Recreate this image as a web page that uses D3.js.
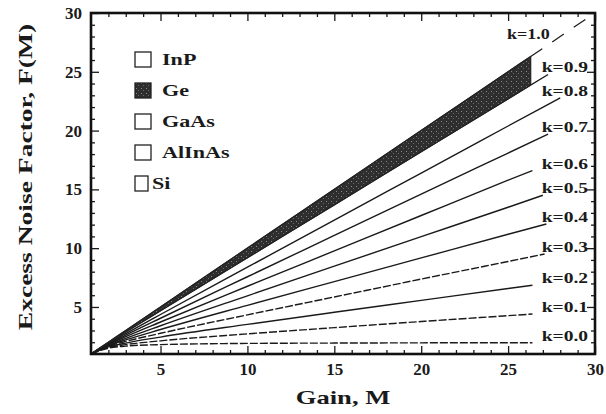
<!DOCTYPE html>
<html>
<head>
<meta charset="utf-8">
<script src="https://cdn.jsdelivr.net/npm/d3@7"></script>
<style>
  body { margin: 0; background: #fff; }
  text { font-family: "Liberation Serif", "DejaVu Serif", serif; font-weight: bold; fill: #1a1a1a; }
</style>
</head>
<body>
<div id="chart"></div>
<script>
// values
const gain = [1, 2, 3, 5, 10, 15, 20, 25];
const kNames = ['k=1.0', 'k=0.9', 'k=0.8', 'k=0.7', 'k=0.6', 'k=0.5', 'k=0.4', 'k=0.3', 'k=0.2', 'k=0.1', 'k=0.0'];
const noiseK10 = [1, 2, 3, 5, 10, 15, 20, 25];
const noiseK09 = [1, 1.95, 2.87, 4.68, 9.19, 13.69, 18.2, 22.7];
const noiseK08 = [1, 1.9, 2.73, 4.36, 8.38, 12.39, 16.39, 20.39];
const noiseK07 = [1, 1.85, 2.6, 4.04, 7.57, 11.08, 14.59, 18.09];
const noiseK06 = [1, 1.8, 2.47, 3.72, 6.76, 9.77, 12.78, 15.78];
const noiseK05 = [1, 1.75, 2.33, 3.4, 5.95, 8.47, 10.98, 13.48];
const noiseK04 = [1, 1.7, 2.2, 3.08, 5.14, 7.16, 9.17, 11.18];
const noiseK03 = [1, 1.65, 2.07, 2.76, 4.33, 5.85, 7.37, 8.87];
const noiseK02 = [1, 1.6, 1.93, 2.44, 3.52, 4.55, 5.56, 6.57];
const noiseK01 = [1, 1.55, 1.8, 2.12, 2.71, 3.24, 3.76, 4.26];
const noiseK00 = [1, 1.5, 1.67, 1.8, 1.9, 1.93, 1.95, 1.96];
const endGain = [30, 27.3, 28, 27.3, 26.4, 27, 27.2, 27.1, 26.4, 26.4, 26.4];
const endNoise = [30, 24.77, 22.79, 19.7, 16.6, 14.5, 12.06, 9.5, 6.85, 4.4, 1.96];
const dashedK = ['k=0.3', 'k=0.1', 'k=0.0'];

// Ge band (between k=0.9 and k=1.0)
const geGain = [1, 2, 3, 5, 10, 15, 20, 25, 26.3];
const geUpper = [1, 2, 3, 5, 10, 15, 20, 25, 26.3];
const geLower = [1, 1.95, 2.87, 4.68, 9.19, 13.69, 18.2, 22.7, 23.9];

const legendNames = ['InP', 'Ge', 'GaAs', 'AlInAs', 'Si'];
const xTicks = [5, 10, 15, 20, 25, 30];
const yTicks = [5, 10, 15, 20, 25, 30];

const W = 606, H = 414;
const mLeft = 91, mRight = 595, mTop = 13, mBottom = 354;

const svg = d3.select('#chart').append('svg')
  .attr('width', W).attr('height', H);

const x = d3.scaleLinear().domain([1, 30]).range([mLeft, mRight]);
const y = d3.scaleLinear().domain([1, 30]).range([mBottom, mTop]);

// stipple for the Ge band
const defs = svg.append('defs');
const pat = defs.append('pattern').attr('id', 'stip')
  .attr('width', 5).attr('height', 5).attr('patternUnits', 'userSpaceOnUse');
pat.append('rect').attr('width', 5).attr('height', 5).attr('fill', '#2e2e2e');
pat.append('rect').attr('x', 1).attr('y', 1).attr('width', 1).attr('height', 1).attr('fill', '#8a8a8a');
pat.append('rect').attr('x', 3).attr('y', 3).attr('width', 1).attr('height', 1).attr('fill', '#6a6a6a');

const series = [noiseK10, noiseK09, noiseK08, noiseK07, noiseK06, noiseK05,
  noiseK04, noiseK03, noiseK02, noiseK01, noiseK00];

const line = d3.line().x(d => x(d[0])).y(d => y(d[1])).curve(d3.curveMonotoneX);

series.forEach((vals, i) => {
  let pts = gain.map((g, j) => [g, vals[j]]);
  if (i === 0) {
    // k=1.0: solid under the band, dashed tail to the corner
    pts.push([26.3, 26.3]);
    svg.append('path').attr('d', line([[26.3, 26.3], [endGain[i], endNoise[i]]]))
      .attr('fill', 'none').attr('stroke', '#1a1a1a').attr('stroke-width', 1.2)
      .attr('stroke-dasharray', '14,12');
  } else {
    pts.push([endGain[i], endNoise[i]]);
  }
  svg.append('path').attr('d', line(pts))
    .attr('fill', 'none').attr('stroke', '#1a1a1a')
    .attr('stroke-width', 1.4)
    .attr('stroke-dasharray', dashedK.includes(kNames[i]) ? '8,2' : null);
});

const band = d3.area()
  .x(d => x(d[0])).y0(d => y(d[2])).y1(d => y(d[1]))
  .curve(d3.curveMonotoneX);
svg.append('path')
  .attr('d', band(geGain.map((g, j) => [g, geUpper[j], geLower[j]])))
  .attr('fill', 'url(#stip)').attr('stroke', '#222').attr('stroke-width', 1.2);

// stretched text helper
function label(g, tx, ty, str, size, sx, anchor, rot) {
  return g.append('text')
    .attr('transform', `translate(${tx},${ty})` + (rot ? ` rotate(${rot})` : '') + ` scale(${sx},1)`)
    .attr('text-anchor', anchor || 'start')
    .style('font-size', size + 'px')
    .text(str);
}

// k labels
kNames.forEach((k, i) => {
  if (i === 0) {
    label(svg, x(27.4), y(27.8), k, 15, 1.2, 'end');
  } else {
    label(svg, x(29.6), y(endNoise[i]) - 2, k, 15, 1.3, 'end');
  }
});

// axes with inward ticks
function axes(axisFn, scale, tr, vals, size, withText) {
  const a = axisFn(scale).tickValues(vals).tickSize(-size).tickPadding(withText ? 9 : 0);
  if (!withText) a.tickFormat('');
  const g = svg.append('g').attr('transform', tr).call(a)
    .attr('font-family', '"Liberation Serif", serif');
  g.select('.domain').remove();
  g.selectAll('line').attr('stroke', '#1a1a1a').attr('stroke-width', 1.3);
  g.selectAll('text').style('font-size', '17px').attr('fill', '#1a1a1a')
    .style('font-family', '"Liberation Serif", serif').style('font-weight', 'bold');
  return g;
}
const minor = d3.range(2, 30).filter(v => v % 5 !== 0);
axes(d3.axisBottom, x, `translate(0,${mBottom})`, xTicks, 8, true);
axes(d3.axisBottom, x, `translate(0,${mBottom})`, minor, 4, false);
axes(d3.axisTop, x, `translate(0,${mTop})`, xTicks, 8, false);
axes(d3.axisTop, x, `translate(0,${mTop})`, minor, 4, false);
axes(d3.axisLeft, y, `translate(${mLeft},0)`, yTicks, 8, true);
axes(d3.axisLeft, y, `translate(${mLeft},0)`, minor, 4, false);
axes(d3.axisRight, y, `translate(${mRight},0)`, yTicks, 8, false);
axes(d3.axisRight, y, `translate(${mRight},0)`, minor, 4, false);

svg.append('rect')
  .attr('x', mLeft).attr('y', mTop)
  .attr('width', mRight - mLeft).attr('height', mBottom - mTop)
  .attr('fill', 'none').attr('stroke', '#111').attr('stroke-width', 2.6);

// legend
const legend = svg.append('g').attr('transform', 'translate(135,52)');
legendNames.forEach((n, i) => {
  const gy = i * 31;
  legend.append('rect')
    .attr('x', 0).attr('y', gy).attr('width', n === 'Si' ? 13 : 16).attr('height', 15)
    .attr('fill', n === 'Ge' ? 'url(#stip)' : '#fff')
    .attr('stroke', '#222').attr('stroke-width', 1.3);
  label(legend, n === 'Si' ? 17 : 27, gy + 13, n, 17, 1.3, 'start');
});

// axis titles
label(svg, (mLeft + mRight) / 2, 404, 'Gain, M', 19, 1.4, 'middle');
label(svg, 32, 177, 'Excess Noise Factor, F(M)', 19, 1.45, 'middle', -90);
</script>
</body>
</html>
